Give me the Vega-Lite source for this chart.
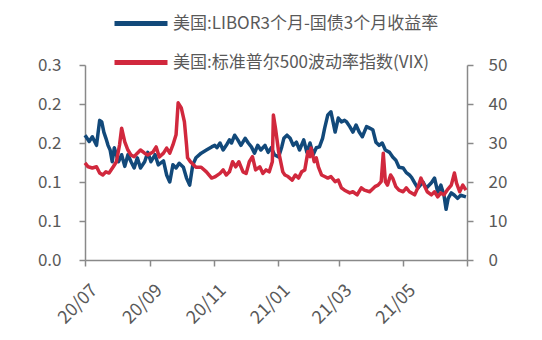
{
  "$schema": "https://vega.github.io/schema/vega-lite/v6.json",
  "width": 382,
  "height": 195,
  "autosize": "none",
  "padding": {"left": 85, "top": 65, "right": 75, "bottom": 80},
  "config": {
    "view": {"stroke": null},
    "font": "Noto Sans CJK SC",
    "axis": {
      "labelFont": "Noto Sans CJK SC",
      "labelColor": "#595959",
      "labelFontSize": 17,
      "domainColor": "#898989",
      "tickColor": "#898989",
      "domainWidth": 1.5,
      "tickWidth": 1.5,
      "tickSize": 6,
      "grid": false,
      "title": null
    }
  },
  "datasets": {
    "spread": [
      {"d": "2020-07-01", "v": 0.160}, {"d": "2020-07-02", "v": 0.158}, {"d": "2020-07-05", "v": 0.152},
      {"d": "2020-07-08", "v": 0.158}, {"d": "2020-07-12", "v": 0.147}, {"d": "2020-07-15", "v": 0.179},
      {"d": "2020-07-17", "v": 0.177}, {"d": "2020-07-19", "v": 0.164}, {"d": "2020-07-21", "v": 0.156},
      {"d": "2020-07-23", "v": 0.147}, {"d": "2020-07-25", "v": 0.141}, {"d": "2020-07-27", "v": 0.126},
      {"d": "2020-07-29", "v": 0.144}, {"d": "2020-08-02", "v": 0.126}, {"d": "2020-08-05", "v": 0.135},
      {"d": "2020-08-08", "v": 0.120}, {"d": "2020-08-11", "v": 0.135}, {"d": "2020-08-14", "v": 0.126},
      {"d": "2020-08-17", "v": 0.118}, {"d": "2020-08-20", "v": 0.131}, {"d": "2020-08-23", "v": 0.118},
      {"d": "2020-08-27", "v": 0.126}, {"d": "2020-08-30", "v": 0.138}, {"d": "2020-09-02", "v": 0.126},
      {"d": "2020-09-06", "v": 0.135}, {"d": "2020-09-09", "v": 0.122}, {"d": "2020-09-14", "v": 0.127},
      {"d": "2020-09-17", "v": 0.109}, {"d": "2020-09-20", "v": 0.100}, {"d": "2020-09-23", "v": 0.122},
      {"d": "2020-09-26", "v": 0.118}, {"d": "2020-09-29", "v": 0.124}, {"d": "2020-10-03", "v": 0.119},
      {"d": "2020-10-06", "v": 0.105}, {"d": "2020-10-09", "v": 0.096}, {"d": "2020-10-12", "v": 0.122},
      {"d": "2020-10-15", "v": 0.131}, {"d": "2020-10-20", "v": 0.137}, {"d": "2020-10-25", "v": 0.141},
      {"d": "2020-10-30", "v": 0.145}, {"d": "2020-11-02", "v": 0.147}, {"d": "2020-11-04", "v": 0.144},
      {"d": "2020-11-07", "v": 0.150}, {"d": "2020-11-10", "v": 0.141}, {"d": "2020-11-13", "v": 0.147},
      {"d": "2020-11-16", "v": 0.154}, {"d": "2020-11-18", "v": 0.150}, {"d": "2020-11-21", "v": 0.160},
      {"d": "2020-11-24", "v": 0.154}, {"d": "2020-11-27", "v": 0.147}, {"d": "2020-12-01", "v": 0.156},
      {"d": "2020-12-04", "v": 0.150}, {"d": "2020-12-07", "v": 0.145}, {"d": "2020-12-10", "v": 0.137},
      {"d": "2020-12-13", "v": 0.147}, {"d": "2020-12-16", "v": 0.141}, {"d": "2020-12-20", "v": 0.147},
      {"d": "2020-12-23", "v": 0.138}, {"d": "2020-12-26", "v": 0.144}, {"d": "2020-12-29", "v": 0.135},
      {"d": "2021-01-02", "v": 0.132}, {"d": "2021-01-05", "v": 0.145}, {"d": "2021-01-07", "v": 0.156},
      {"d": "2021-01-10", "v": 0.160}, {"d": "2021-01-13", "v": 0.156}, {"d": "2021-01-16", "v": 0.147},
      {"d": "2021-01-19", "v": 0.151}, {"d": "2021-01-22", "v": 0.141}, {"d": "2021-01-26", "v": 0.154},
      {"d": "2021-01-29", "v": 0.138}, {"d": "2021-02-01", "v": 0.150}, {"d": "2021-02-04", "v": 0.135},
      {"d": "2021-02-07", "v": 0.144}, {"d": "2021-02-10", "v": 0.145}, {"d": "2021-02-13", "v": 0.156},
      {"d": "2021-02-15", "v": 0.169}, {"d": "2021-02-18", "v": 0.186}, {"d": "2021-02-21", "v": 0.190},
      {"d": "2021-02-23", "v": 0.177}, {"d": "2021-02-25", "v": 0.164}, {"d": "2021-02-28", "v": 0.182},
      {"d": "2021-03-03", "v": 0.177}, {"d": "2021-03-06", "v": 0.179}, {"d": "2021-03-08", "v": 0.177},
      {"d": "2021-03-11", "v": 0.171}, {"d": "2021-03-14", "v": 0.164}, {"d": "2021-03-17", "v": 0.173},
      {"d": "2021-03-20", "v": 0.164}, {"d": "2021-03-23", "v": 0.158}, {"d": "2021-03-27", "v": 0.171},
      {"d": "2021-03-30", "v": 0.169}, {"d": "2021-04-02", "v": 0.167}, {"d": "2021-04-05", "v": 0.151},
      {"d": "2021-04-08", "v": 0.147}, {"d": "2021-04-11", "v": 0.150}, {"d": "2021-04-14", "v": 0.141},
      {"d": "2021-04-18", "v": 0.138}, {"d": "2021-04-21", "v": 0.132}, {"d": "2021-04-24", "v": 0.128},
      {"d": "2021-04-27", "v": 0.119}, {"d": "2021-05-01", "v": 0.118}, {"d": "2021-05-04", "v": 0.112},
      {"d": "2021-05-07", "v": 0.109}, {"d": "2021-05-09", "v": 0.106}, {"d": "2021-05-12", "v": 0.099},
      {"d": "2021-05-15", "v": 0.092}, {"d": "2021-05-20", "v": 0.100}, {"d": "2021-05-23", "v": 0.092},
      {"d": "2021-05-28", "v": 0.099}, {"d": "2021-05-31", "v": 0.105}, {"d": "2021-06-03", "v": 0.087},
      {"d": "2021-06-06", "v": 0.096}, {"d": "2021-06-09", "v": 0.083}, {"d": "2021-06-11", "v": 0.065},
      {"d": "2021-06-13", "v": 0.079}, {"d": "2021-06-16", "v": 0.086}, {"d": "2021-06-19", "v": 0.083},
      {"d": "2021-06-22", "v": 0.079}, {"d": "2021-06-25", "v": 0.083}, {"d": "2021-06-30", "v": 0.081}
    ],
    "vix": [
      {"d": "2020-07-01", "v": 24.9}, {"d": "2020-07-04", "v": 23.9}, {"d": "2020-07-08", "v": 23.6},
      {"d": "2020-07-12", "v": 23.9}, {"d": "2020-07-15", "v": 22.3}, {"d": "2020-07-18", "v": 21.8},
      {"d": "2020-07-21", "v": 22.6}, {"d": "2020-07-24", "v": 22.3}, {"d": "2020-07-28", "v": 23.9},
      {"d": "2020-07-31", "v": 25.2}, {"d": "2020-08-03", "v": 29.5}, {"d": "2020-08-05", "v": 33.8},
      {"d": "2020-08-08", "v": 30.3}, {"d": "2020-08-11", "v": 28.2}, {"d": "2020-08-14", "v": 26.9},
      {"d": "2020-08-17", "v": 26.5}, {"d": "2020-08-20", "v": 27.4}, {"d": "2020-08-23", "v": 28.2},
      {"d": "2020-08-27", "v": 27.4}, {"d": "2020-08-30", "v": 26.9}, {"d": "2020-09-04", "v": 27.7},
      {"d": "2020-09-07", "v": 29.0}, {"d": "2020-09-10", "v": 26.4}, {"d": "2020-09-14", "v": 27.4},
      {"d": "2020-09-17", "v": 28.7}, {"d": "2020-09-20", "v": 27.4}, {"d": "2020-09-23", "v": 29.5},
      {"d": "2020-09-26", "v": 32.1}, {"d": "2020-09-28", "v": 40.3}, {"d": "2020-10-01", "v": 39.0},
      {"d": "2020-10-04", "v": 35.4}, {"d": "2020-10-06", "v": 29.5}, {"d": "2020-10-07", "v": 26.2},
      {"d": "2020-10-10", "v": 25.1}, {"d": "2020-10-15", "v": 23.8}, {"d": "2020-10-20", "v": 23.8},
      {"d": "2020-10-25", "v": 22.6}, {"d": "2020-10-30", "v": 21.0}, {"d": "2020-11-02", "v": 21.3},
      {"d": "2020-11-07", "v": 22.2}, {"d": "2020-11-10", "v": 23.1}, {"d": "2020-11-13", "v": 21.8},
      {"d": "2020-11-16", "v": 22.6}, {"d": "2020-11-19", "v": 25.2}, {"d": "2020-11-22", "v": 23.9},
      {"d": "2020-11-25", "v": 25.2}, {"d": "2020-11-29", "v": 22.6}, {"d": "2020-12-02", "v": 22.2},
      {"d": "2020-12-05", "v": 25.2}, {"d": "2020-12-08", "v": 26.5}, {"d": "2020-12-11", "v": 23.1},
      {"d": "2020-12-15", "v": 23.9}, {"d": "2020-12-18", "v": 22.2}, {"d": "2020-12-21", "v": 23.1},
      {"d": "2020-12-24", "v": 22.6}, {"d": "2020-12-27", "v": 25.2}, {"d": "2020-12-28", "v": 37.2},
      {"d": "2020-12-30", "v": 33.8}, {"d": "2021-01-02", "v": 27.8}, {"d": "2021-01-06", "v": 22.6},
      {"d": "2021-01-08", "v": 21.8}, {"d": "2021-01-11", "v": 21.4}, {"d": "2021-01-15", "v": 20.5},
      {"d": "2021-01-18", "v": 21.8}, {"d": "2021-01-21", "v": 21.0}, {"d": "2021-01-24", "v": 22.6},
      {"d": "2021-01-27", "v": 23.1}, {"d": "2021-01-30", "v": 27.8}, {"d": "2021-02-01", "v": 26.5},
      {"d": "2021-02-02", "v": 28.7}, {"d": "2021-02-05", "v": 25.2}, {"d": "2021-02-07", "v": 26.2},
      {"d": "2021-02-09", "v": 23.9}, {"d": "2021-02-12", "v": 21.8}, {"d": "2021-02-15", "v": 21.4},
      {"d": "2021-02-18", "v": 21.0}, {"d": "2021-02-21", "v": 21.4}, {"d": "2021-02-25", "v": 20.1},
      {"d": "2021-02-28", "v": 20.5}, {"d": "2021-03-03", "v": 18.5}, {"d": "2021-03-06", "v": 17.9},
      {"d": "2021-03-11", "v": 17.2}, {"d": "2021-03-14", "v": 17.5}, {"d": "2021-03-18", "v": 16.7},
      {"d": "2021-03-22", "v": 18.5}, {"d": "2021-03-25", "v": 17.9}, {"d": "2021-03-30", "v": 17.5},
      {"d": "2021-04-04", "v": 18.8}, {"d": "2021-04-07", "v": 19.2}, {"d": "2021-04-10", "v": 20.1},
      {"d": "2021-04-12", "v": 27.4}, {"d": "2021-04-14", "v": 20.1}, {"d": "2021-04-16", "v": 19.2},
      {"d": "2021-04-19", "v": 21.8}, {"d": "2021-04-21", "v": 21.0}, {"d": "2021-04-24", "v": 18.8},
      {"d": "2021-04-27", "v": 17.9}, {"d": "2021-05-01", "v": 17.5}, {"d": "2021-05-04", "v": 18.5},
      {"d": "2021-05-07", "v": 17.5}, {"d": "2021-05-12", "v": 16.7}, {"d": "2021-05-15", "v": 18.5},
      {"d": "2021-05-18", "v": 21.0}, {"d": "2021-05-21", "v": 19.2}, {"d": "2021-05-24", "v": 17.5},
      {"d": "2021-05-28", "v": 16.7}, {"d": "2021-05-31", "v": 17.5}, {"d": "2021-06-03", "v": 16.2},
      {"d": "2021-06-06", "v": 17.2}, {"d": "2021-06-09", "v": 16.7}, {"d": "2021-06-12", "v": 17.9},
      {"d": "2021-06-16", "v": 19.2}, {"d": "2021-06-19", "v": 22.3}, {"d": "2021-06-21", "v": 19.7},
      {"d": "2021-06-24", "v": 17.5}, {"d": "2021-06-27", "v": 19.2}, {"d": "2021-06-30", "v": 17.9}
    ]
  },
  "layer": [
    {
      "data": {"name": "spread"},
      "mark": {"type": "line", "strokeWidth": 3.5, "strokeJoin": "round"},
      "encoding": {
        "x": {
          "field": "d", "type": "temporal",
          "scale": {"type": "utc", "domain": [{"year": 2020, "month": 7, "date": 1, "utc": true}, {"year": 2021, "month": 7, "date": 1, "utc": true}]},
          "axis": {
            "values": [
              {"year": 2020, "month": 7, "date": 1, "utc": true},
              {"year": 2020, "month": 9, "date": 1, "utc": true},
              {"year": 2020, "month": 11, "date": 1, "utc": true},
              {"year": 2021, "month": 1, "date": 1, "utc": true},
              {"year": 2021, "month": 3, "date": 1, "utc": true},
              {"year": 2021, "month": 5, "date": 1, "utc": true},
              {"year": 2021, "month": 7, "date": 1, "utc": true}
            ],
            "labelExpr": "utcFormat(datum.value, '%Y-%m') == '2021-07' ? '' : utcFormat(datum.value, '%y/%m')",
            "labelAngle": -45,
            "labelAlign": "right",
            "labelBaseline": "top",
            "labelFontSize": 18,
            "labelPadding": 15,
            "labelOffset": 3
          }
        },
        "y": {
          "field": "v", "type": "quantitative",
          "scale": {"domain": [0, 0.25]},
          "axis": {
            "orient": "left",
            "values": [0, 0.05, 0.1, 0.15, 0.2, 0.25],
            "labelExpr": "format(round(datum.value * 20) / 20 + 0.0001, '.1f')",
            "labelPadding": 18
          }
        },
        "color": {
          "datum": "美国:LIBOR3个月-国债3个月收益率", "type": "nominal",
          "scale": {"domain": ["美国:LIBOR3个月-国债3个月收益率", "美国:标准普尔500波动率指数(VIX)"], "range": ["#12497a", "#d1283d"]},
          "legend": {
            "orient": "none", "legendX": 43.5, "legendY": -54, "direction": "vertical",
            "title": null, "padding": 0,
            "symbolType": "M-2.65,0H2.65", "symbolSize": 400, "symbolStrokeWidth": 5,
            "labelFont": "Noto Sans CJK SC", "labelFontSize": 17, "labelColor": "#595959",
            "labelOffset": 19.5, "rowPadding": 16, "labelLimit": 400
          }
        }
      }
    },
    {
      "data": {"name": "vix"},
      "mark": {"type": "line", "strokeWidth": 3.5, "strokeJoin": "round"},
      "encoding": {
        "x": {"field": "d", "type": "temporal"},
        "y": {
          "field": "v", "type": "quantitative",
          "scale": {"domain": [0, 50]},
          "axis": {"orient": "right", "values": [0, 10, 20, 30, 40, 50], "labelPadding": 15}
        },
        "color": {"datum": "美国:标准普尔500波动率指数(VIX)", "type": "nominal"}
      }
    }
  ],
  "resolve": {"scale": {"y": "independent"}}
}
